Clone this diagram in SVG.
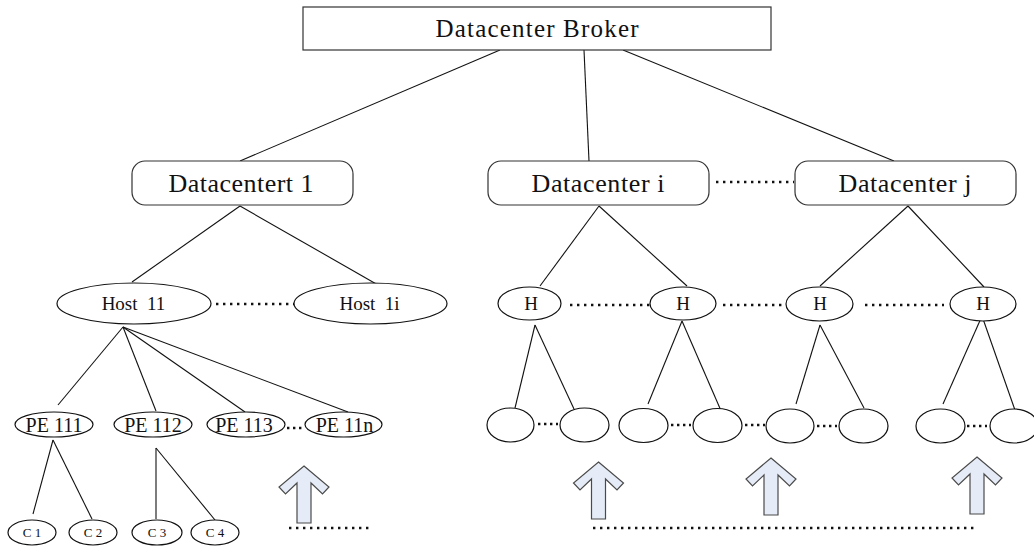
<svg xmlns="http://www.w3.org/2000/svg" width="1034" height="548" viewBox="0 0 1034 548">
  <style>
    .box { fill: #ffffff; stroke: #333333; stroke-width: 1.2; }
    .ell { fill: #ffffff; stroke: #111111; stroke-width: 1.2; }
    .edge { stroke: #111111; stroke-width: 1.1; fill: none; }
    .dots { stroke: #111111; stroke-width: 2.4; stroke-dasharray: 2.4 4.6; fill: none; }
    .sdots { stroke: #111111; stroke-width: 2.6; stroke-dasharray: 2.4 3.6; fill: none; }
    .arrow { fill: #e5ecf7; stroke: #4a4a4a; stroke-width: 1.2; stroke-linejoin: miter; }
    text { font-family: "Liberation Serif", "Times New Roman", serif; fill: #111111; text-anchor: middle; }
    .t-broker { font-size: 25px; }
    .t-dc { font-size: 26px; }
    .t-host { font-size: 19px; }
    .t-pe { font-size: 20px; }
    .t-c { font-size: 13px; }
  </style>
  <defs>
    <!-- block up-arrow, tip at origin -->
    <path id="upArrow" class="arrow" d="M0,0 L25,21 L18.5,28 L7,17 L7,57 L-7,57 L-7,17 L-18.5,28 L-25,21 Z"/>
  </defs>
  <rect width="1034" height="548" fill="#ffffff"/>

  <!-- connectors -->
  <g id="connectors">
    <line class="edge" x1="500" y1="50" x2="240" y2="161"/>
    <line class="edge" x1="584" y1="50" x2="589" y2="161"/>
    <line class="edge" x1="623" y1="50" x2="894" y2="161"/>

    <line class="edge" x1="240" y1="206" x2="132" y2="282"/>
    <line class="edge" x1="240" y1="206" x2="378" y2="285"/>
    <line class="edge" x1="599" y1="206" x2="540" y2="286"/>
    <line class="edge" x1="599" y1="206" x2="687" y2="286"/>
    <line class="edge" x1="908" y1="206" x2="820" y2="286"/>
    <line class="edge" x1="908" y1="206" x2="984" y2="287"/>

    <line class="edge" x1="123" y1="327" x2="58" y2="405"/>
    <line class="edge" x1="123" y1="327" x2="156" y2="411"/>
    <line class="edge" x1="123" y1="327" x2="245" y2="412"/>
    <line class="edge" x1="123" y1="327" x2="348" y2="412"/>

    <line class="edge" x1="53" y1="440" x2="33" y2="514"/>
    <line class="edge" x1="53" y1="440" x2="92" y2="519"/>
    <line class="edge" x1="156" y1="448" x2="156" y2="519"/>
    <line class="edge" x1="156" y1="448" x2="215" y2="520"/>

    <line class="edge" x1="535" y1="325" x2="515" y2="408"/>
    <line class="edge" x1="535" y1="325" x2="574" y2="409"/>
    <line class="edge" x1="682" y1="321" x2="648" y2="404"/>
    <line class="edge" x1="682" y1="321" x2="722" y2="413"/>
    <line class="edge" x1="820" y1="325" x2="796" y2="404"/>
    <line class="edge" x1="820" y1="325" x2="864" y2="408"/>
    <line class="edge" x1="982" y1="316" x2="943" y2="404"/>
    <line class="edge" x1="982" y1="316" x2="1016" y2="413"/>

    <!-- dotted "and so on" links -->
    <line class="dots" x1="716" y1="182" x2="794" y2="182"/>
    <line class="dots" x1="216" y1="304" x2="294" y2="304"/>
    <line class="dots" x1="570" y1="305" x2="650" y2="305"/>
    <line class="dots" x1="723" y1="305" x2="785" y2="305"/>
    <line class="dots" x1="865" y1="305" x2="944" y2="305"/>
    <line class="sdots" x1="287" y1="428" x2="305" y2="428"/>
    <line class="sdots" x1="538" y1="424" x2="558" y2="424"/>
    <line class="sdots" x1="671" y1="425" x2="691" y2="425"/>
    <line class="sdots" x1="745" y1="425" x2="765" y2="425"/>
    <line class="sdots" x1="817" y1="426" x2="837" y2="426"/>
    <line class="sdots" x1="967" y1="426" x2="987" y2="426"/>
    <line class="dots" x1="289" y1="528" x2="370" y2="528"/>
    <line class="dots" x1="593" y1="528" x2="976" y2="528"/>
  </g>

  <!-- broker -->
  <g id="broker">
    <rect class="box" x="303" y="7" width="468" height="43"/>
    <text class="t-broker" x="537" y="37" textLength="203" lengthAdjust="spacing">Datacenter Broker</text>
  </g>

  <!-- datacenters -->
  <g id="dc-1">
    <rect class="box" x="132" y="161" width="221" height="44" rx="13"/>
    <text class="t-dc" x="241" y="192" textLength="145" lengthAdjust="spacing">Datacentert 1</text>
  </g>
  <g id="dc-i">
    <rect class="box" x="488" y="161" width="221" height="44" rx="13"/>
    <text class="t-dc" x="598" y="192" textLength="133" lengthAdjust="spacing">Datacenter i</text>
  </g>
  <g id="dc-j">
    <rect class="box" x="795" y="161" width="221" height="44" rx="13"/>
    <text class="t-dc" x="905" y="192" textLength="133" lengthAdjust="spacing">Datacenter j</text>
  </g>

  <!-- hosts -->
  <g id="host-11">
    <ellipse class="ell" cx="134" cy="303.5" rx="77" ry="20.5"/>
    <text class="t-host" x="133.5" y="309.5" xml:space="preserve">Host  11</text>
  </g>
  <g id="host-1i">
    <ellipse class="ell" cx="370.5" cy="303.5" rx="76.5" ry="20.5"/>
    <text class="t-host" x="369.5" y="309.5" xml:space="preserve">Host  1i</text>
  </g>
  <g id="host-h1">
    <ellipse class="ell" cx="529.5" cy="303.5" rx="31.5" ry="16.5"/>
    <text class="t-host" x="531" y="309.5">H</text>
  </g>
  <g id="host-h2">
    <ellipse class="ell" cx="683" cy="303.5" rx="33" ry="16.5"/>
    <text class="t-host" x="683" y="309.5">H</text>
  </g>
  <g id="host-h3">
    <ellipse class="ell" cx="819.5" cy="304" rx="33.5" ry="17"/>
    <text class="t-host" x="820" y="310">H</text>
  </g>
  <g id="host-h4">
    <ellipse class="ell" cx="983" cy="304" rx="33" ry="17"/>
    <text class="t-host" x="983" y="310">H</text>
  </g>

  <!-- processing elements -->
  <g id="pe-111">
    <ellipse class="ell" cx="54" cy="424.5" rx="39" ry="12.5"/>
    <text class="t-pe" x="54" y="431.5">PE 111</text>
  </g>
  <g id="pe-112">
    <ellipse class="ell" cx="153" cy="424.5" rx="39" ry="12.5"/>
    <text class="t-pe" x="153" y="431.5">PE 112</text>
  </g>
  <g id="pe-113">
    <ellipse class="ell" cx="246" cy="424.5" rx="39" ry="12.5"/>
    <text class="t-pe" x="244" y="431.5">PE 113</text>
  </g>
  <g id="pe-11n">
    <ellipse class="ell" cx="343.5" cy="424.5" rx="38.5" ry="12.5"/>
    <text class="t-pe" x="344.5" y="431.5">PE 11n</text>
  </g>

  <!-- cores -->
  <g id="c-1">
    <ellipse class="ell" cx="32" cy="532.5" rx="24" ry="12.5"/>
    <text class="t-c" x="32" y="537">C 1</text>
  </g>
  <g id="c-2">
    <ellipse class="ell" cx="93" cy="532.5" rx="24" ry="12.5"/>
    <text class="t-c" x="93" y="537">C 2</text>
  </g>
  <g id="c-3">
    <ellipse class="ell" cx="157" cy="532.5" rx="25" ry="12.5"/>
    <text class="t-c" x="157" y="537">C 3</text>
  </g>
  <g id="c-4">
    <ellipse class="ell" cx="215" cy="532.5" rx="24" ry="12.5"/>
    <text class="t-c" x="215" y="537">C 4</text>
  </g>

  <!-- unlabelled processing elements under H hosts -->
  <g id="pe-a"><ellipse class="ell" cx="510.5" cy="425" rx="23.5" ry="17"/></g>
  <g id="pe-b"><ellipse class="ell" cx="584.5" cy="425" rx="24.5" ry="17"/></g>
  <g id="pe-c"><ellipse class="ell" cx="643.5" cy="425.5" rx="24.5" ry="17"/></g>
  <g id="pe-d"><ellipse class="ell" cx="717.5" cy="425.5" rx="24.5" ry="17"/></g>
  <g id="pe-e"><ellipse class="ell" cx="790" cy="426" rx="24" ry="17"/></g>
  <g id="pe-f"><ellipse class="ell" cx="863.5" cy="426" rx="24.5" ry="17"/></g>
  <g id="pe-g"><ellipse class="ell" cx="940.5" cy="426" rx="24.5" ry="17"/></g>
  <g id="pe-h"><ellipse class="ell" cx="1014" cy="426" rx="24" ry="17"/></g>

  <!-- block arrows -->
  <g id="arrows">
    <use href="#upArrow" x="304" y="466"/>
    <use href="#upArrow" x="598.5" y="462"/>
    <use href="#upArrow" x="771" y="458"/>
    <use href="#upArrow" x="977" y="457"/>
  </g>
</svg>
